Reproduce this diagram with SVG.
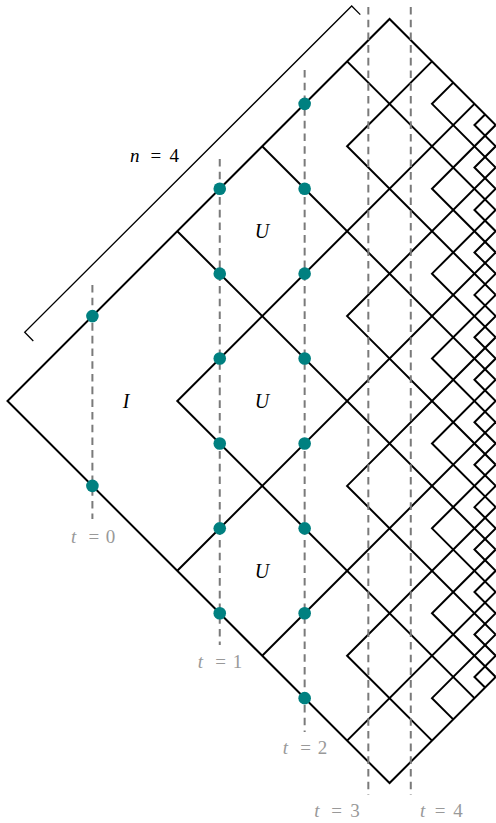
<svg xmlns="http://www.w3.org/2000/svg" width="496" height="823" viewBox="0 0 496 823">
<style>
.ln{fill:none;stroke:#000;stroke-width:2;stroke-linejoin:miter;stroke-linecap:butt}
.br{fill:none;stroke:#000;stroke-width:1.3}
.ds{fill:none;stroke:#7a7a7a;stroke-width:2;stroke-dasharray:7.6 5.1}
.dot{fill:#008080}
.lab{font-family:"Liberation Serif","Times New Roman",serif;font-size:20px;fill:#000;text-anchor:middle}
.tl{font-family:"Liberation Serif","Times New Roman",serif;font-size:19px;fill:#999;text-anchor:middle}
.nl{font-family:"Liberation Serif","Times New Roman",serif;font-size:19px;fill:#000;text-anchor:middle}
.it{font-style:italic}
</style>
<rect width="496" height="823" fill="#fff"/>
<g id="connectors">
<path class="ln" d="M495.68,125.08 L389.55,18.95 L7.5,401 L389.55,783.05 L495.68,676.93"/>
<path class="ln" d="M474.45,103.85 L177.3,401 L474.45,698.15"/>
<path class="ln" d="M177.3,570.8 L495.68,252.43"/>
<path class="ln" d="M177.3,231.2 L495.68,549.58"/>
<path class="ln" d="M262.2,655.7 L495.68,422.23"/>
<path class="ln" d="M262.2,146.3 L495.68,379.78"/>
<path class="ln" d="M347.1,740.6 L495.68,592.03"/>
<path class="ln" d="M347.1,61.4 L495.68,209.98"/>
<path class="ln" d="M432,61.4 L347.1,146.3 L495.68,294.88"/>
<path class="ln" d="M495.68,167.53 L347.1,316.1 L495.68,464.68"/>
<path class="ln" d="M495.68,337.33 L347.1,485.9 L495.68,634.48"/>
<path class="ln" d="M495.68,507.13 L347.1,655.7 L432,740.6"/>
<path class="ln" d="M453.23,82.63 L432,103.85 L495.68,167.53"/>
<path class="ln" d="M495.68,125.08 L432,188.75 L495.68,252.43"/>
<path class="ln" d="M495.68,209.98 L432,273.65 L495.68,337.33"/>
<path class="ln" d="M495.68,294.88 L432,358.55 L495.68,422.23"/>
<path class="ln" d="M495.68,379.78 L432,443.45 L495.68,507.13"/>
<path class="ln" d="M495.68,464.68 L432,528.35 L495.68,592.03"/>
<path class="ln" d="M495.68,549.58 L432,613.25 L495.68,676.93"/>
<path class="ln" d="M495.68,634.48 L432,698.15 L453.23,719.38"/>
<path class="ln" d="M485.06,114.46 L474.45,125.08 L495.68,146.3 L474.45,167.53 L495.68,188.75 L474.45,209.98 L495.68,231.2 L474.45,252.43 L495.68,273.65 L474.45,294.88 L495.68,316.1 L474.45,337.33 L495.68,358.55 L474.45,379.78 L495.68,401 L474.45,422.23 L495.68,443.45 L474.45,464.68 L495.68,485.9 L474.45,507.13 L495.68,528.35 L474.45,549.58 L495.68,570.8 L474.45,592.03 L495.68,613.25 L474.45,634.48 L495.68,655.7 L474.45,676.93 L485.06,687.54"/>
</g>
<g id="time-slices">
<line class="ds" x1="92.4" y1="285" x2="92.4" y2="519"/>
<line class="ds" x1="219.75" y1="159" x2="219.75" y2="645"/>
<line class="ds" x1="304.65" y1="70" x2="304.65" y2="732"/>
<line class="ds" x1="368.33" y1="7" x2="368.33" y2="795"/>
<line class="ds" x1="410.78" y1="7" x2="410.78" y2="795"/>
</g>
<g id="dots">
<circle class="dot" cx="92.4" cy="316.1" r="6.3"/>
<circle class="dot" cx="92.4" cy="485.9" r="6.3"/>
<circle class="dot" cx="219.75" cy="188.75" r="6.3"/>
<circle class="dot" cx="219.75" cy="273.65" r="6.3"/>
<circle class="dot" cx="219.75" cy="358.55" r="6.3"/>
<circle class="dot" cx="219.75" cy="443.45" r="6.3"/>
<circle class="dot" cx="219.75" cy="528.35" r="6.3"/>
<circle class="dot" cx="219.75" cy="613.25" r="6.3"/>
<circle class="dot" cx="304.65" cy="103.85" r="6.3"/>
<circle class="dot" cx="304.65" cy="188.75" r="6.3"/>
<circle class="dot" cx="304.65" cy="273.65" r="6.3"/>
<circle class="dot" cx="304.65" cy="358.55" r="6.3"/>
<circle class="dot" cx="304.65" cy="443.45" r="6.3"/>
<circle class="dot" cx="304.65" cy="528.35" r="6.3"/>
<circle class="dot" cx="304.65" cy="613.25" r="6.3"/>
<circle class="dot" cx="304.65" cy="698.15" r="6.3"/>
</g>
<g id="gate-I"><text class="lab it" x="126" y="408">I</text></g>
<g id="gate-U1"><text class="lab it" x="262" y="238">U</text></g>
<g id="gate-U2"><text class="lab it" x="262" y="408">U</text></g>
<g id="gate-U3"><text class="lab it" x="262" y="578">U</text></g>
<g id="bracket">
<path class="br" d="M33.3,341 L24.7,332.3 L351.7,6 L360.3,14.6"/>
<text class="nl" y="162"><tspan class="it" x="134.7">n</tspan><tspan x="155.8">=</tspan><tspan x="174.2">4</tspan></text>
</g>
<g id="time-labels">
<text class="tl" y="543"><tspan class="it" x="73.7">t</tspan><tspan x="93.8">=</tspan><tspan x="110.5">0</tspan></text>
<text class="tl" y="668"><tspan class="it" x="200.5">t</tspan><tspan x="220.5">=</tspan><tspan x="237.5">1</tspan></text>
<text class="tl" y="754"><tspan class="it" x="285.5">t</tspan><tspan x="305.5">=</tspan><tspan x="322.5">2</tspan></text>
<text class="tl" y="817"><tspan class="it" x="317">t</tspan><tspan x="336.5">=</tspan><tspan x="355">3</tspan></text>
<text class="tl" y="817"><tspan class="it" x="422.7">t</tspan><tspan x="440">=</tspan><tspan x="458">4</tspan></text>
</g>
</svg>
